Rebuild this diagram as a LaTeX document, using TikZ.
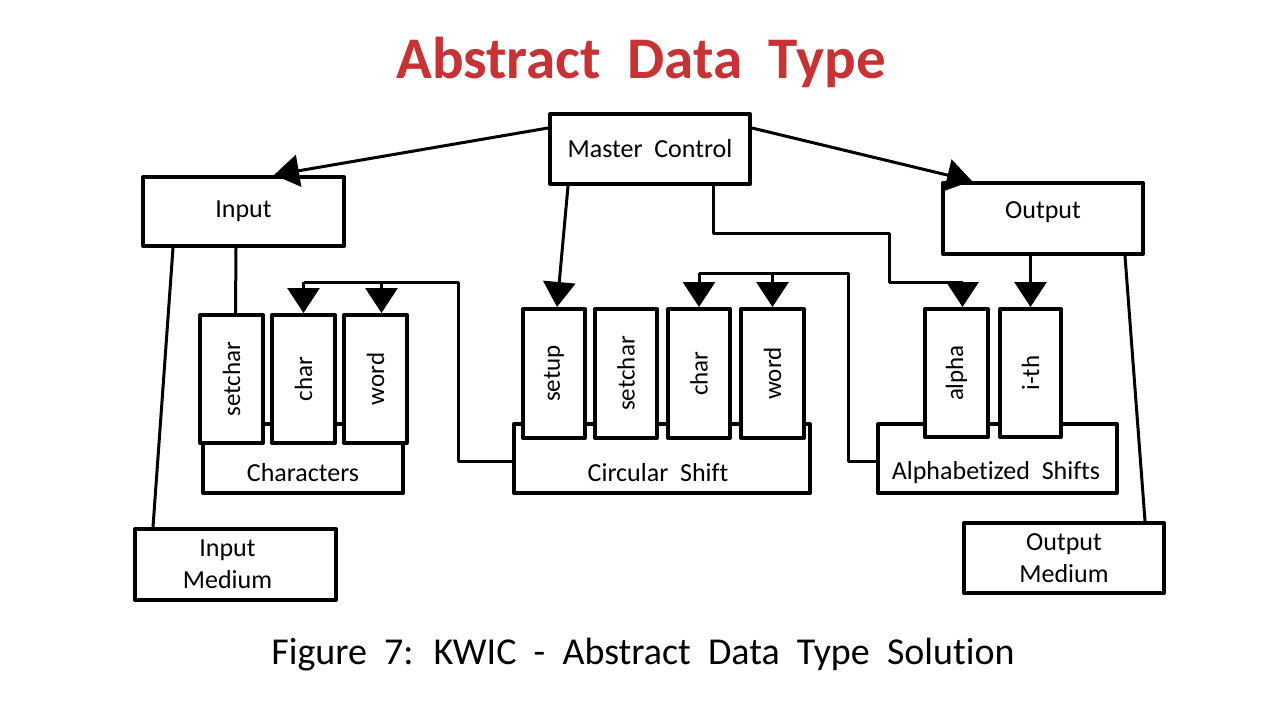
\documentclass[tikz,border=0pt]{standalone}
\usepackage{fontspec}
\setmainfont[WordSpace=2,Ligatures=NoCommon]{Carlito}
\usetikzlibrary{arrows.meta,calc}
\definecolor{titlered}{RGB}{199,50,52}
\begin{document}
\begin{tikzpicture}[x=1pt,y=-1pt,
  box/.style={draw,line width=4pt,fill=white,inner sep=0pt,line join=round,
    font=\fontsize{26}{32}\selectfont,align=center},
  meth/.style={box,minimum width=63pt,minimum height=128pt,font=\fontsize{25}{30}\selectfont},
  conn/.style={line width=3pt,line join=round},
  arr/.style={-{Triangle[width=32pt,length=25pt]}},
  lbl/.style={inner sep=0pt,font=\fontsize{26}{32}\selectfont}]
\useasboundingbox[fill=white] (0,0) rectangle (1280,720);

% title and caption
\node[inner sep=0pt,text=titlered,font=\bfseries\fontsize{59}{70}\selectfont] (title) at (641,62) {Abstract Data Type};
\node[inner sep=0pt,font=\fontsize{38}{44}\selectfont] (caption) at (643,655) {Figure 7: KWIC - Abstract Data Type Solution};

% top level boxes
\node[box,minimum width=200pt,minimum height=70pt] (mc) at (650,149) {Master Control};
\node[box,minimum width=201pt,minimum height=69pt] (input) at (243.5,211.5) {Input};
\node[box,minimum width=200pt,minimum height=71pt] (output) at (1043,218.5) {\raisebox{6pt}[\height][\depth]{Output}};
\node[box,minimum width=201pt,minimum height=71pt] (im) at (235.5,564.5) {\hspace*{-16pt}Input\\\hspace*{-16pt}Medium};
\node[box,minimum width=200pt,minimum height=70pt] (om) at (1064,558) {Output\\Medium};

% base boxes
\node[box,minimum width=200pt,minimum height=69pt] (chb) at (303,458.5) {};
\node[box,minimum width=296pt,minimum height=69pt] (csb) at (662,458.5) {};
\node[box,minimum width=239pt,minimum height=69pt] (alb) at (997.5,458.5) {};
\node[lbl] (chl) at (303,473) {Characters};
\node[lbl] (csl) at (658,473) {Circular Shift};
\node[lbl] (all) at (996,473) {Alphabetized Shifts};

% method boxes
\node[meth] (ch1) at (231.5,379) {\rotatebox{90}{setchar}};
\node[meth] (ch2) at (303.5,379) {\rotatebox{90}{char}};
\node[meth] (ch3) at (375.5,379) {\rotatebox{90}{word}};
\node[meth,minimum height=129pt,minimum width=62pt] (cs1) at (554,373.5) {\rotatebox{90}{setup}};
\node[meth,minimum height=129pt,minimum width=62pt] (cs2) at (626,373.5) {\rotatebox{90}{setchar}};
\node[meth,minimum height=129pt,minimum width=62pt] (cs3) at (699,373.5) {\rotatebox{90}{char}};
\node[meth,minimum height=129pt,minimum width=63pt] (cs4) at (772.5,373.5) {\rotatebox{90}{word}};
\node[meth] (al1) at (956.5,373) {\rotatebox{90}{alpha}};
\node[meth,minimum width=61pt] (al2) at (1030.5,373) {\rotatebox{90}{i-th}};

% junction coordinates
\coordinate (k1) at (889,233);
\coordinate (k2) at (889,282);
\coordinate (j1) at (458,282);
\coordinate (j2) at (848,273);

% connectors from master control
\draw[conn,arr] ($(mc.north west)+(0,16)$) -- ($(input.north west)+(133,0)$);
\draw[conn,arr] ($(mc.north east)+(0,16)$) -- ($(output.north west)+(31,0)$);
\draw[conn,arr] ($(mc.south west)+(20,0)$) -- ($(cs1.north)+(3,0)$);
\draw[conn] ($(mc.south west)+(165,0)$) |- (k1) -- (k2) -- ($(al1.north)+(6,-25)$);
\draw[conn,arr] ($(al1.north)+(6,-25)$) -- ($(al1.north)+(6,0)$);

% output connectors
\draw[conn,arr] (al2.north |- output.south) -- (al2.north);
\draw[conn] ($(output.south west)+(184,0)$) -- ($(om.north east)+(-21,0)$);

% input connectors
\draw[conn] ($(input.south west)+(95,0)$) -- ($(ch1.north)+(4,0)$);
\draw[conn] ($(input.south west)+(32,0)$) -- ($(im.north west)+(20,0)$);

% circular shift -> characters
\draw[conn] ($(csb.west)+(0,2.5)$) -| (j1) -- (ch2.north |- j1);
\draw[conn,arr] (ch2.north |- j1) -- (ch2.north);
\draw[conn,arr] ($(ch3.north |- j1)+(6,0)$) -- ($(ch3.north)+(6,0)$);

% alphabetized shifts -> circular shift
\draw[conn] ($(alb.west)+(0,2.5)$) -| (j2) -- (cs3.north |- j2);
\draw[conn,arr] (cs3.north |- j2) -- (cs3.north);
\draw[conn,arr] (cs4.north |- j2) -- (cs4.north);
\end{tikzpicture}
\end{document}
